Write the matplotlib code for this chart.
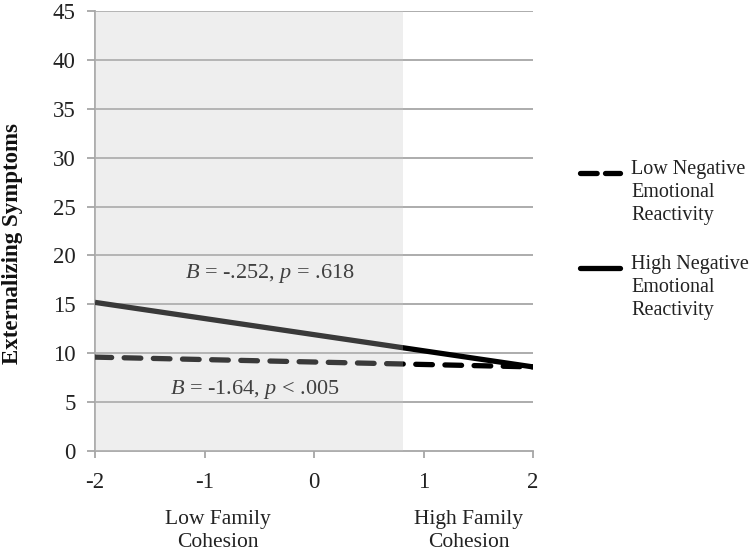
import matplotlib
matplotlib.use("Agg")
import matplotlib.pyplot as plt
from matplotlib.lines import Line2D
import matplotlib.transforms as mtransforms

plt.rcParams['font.family'] = ['Liberation Serif', 'DejaVu Serif']
plt.rcParams['lines.scale_dashes'] = False
plt.rcParams['mathtext.fontset'] = 'custom'
plt.rcParams['mathtext.it'] = 'Liberation Serif:italic'
plt.rcParams['mathtext.rm'] = 'Liberation Serif'

# Data
x_vals = [-2, 2]
low_ner = [9.6, 8.6]
high_ner = [15.2, 8.6]
series_labels = ["Low Negative\nEmotional\nReactivity", "High Negative\nEmotional\nReactivity"]
region_end = 0.81
annot_high = "$\\it{B}$ = -.252, $\\it{p}$ = .618"
annot_low = "$\\it{B}$ = -1.64, $\\it{p}$ < .005"
group_labels = ["Low Family\nCohesion", "High Family\nCohesion"]
group_pos = [-0.88, 1.41]
xticks = [-2, -1, 0, 1, 2]
yticks = list(range(0, 46, 5))

fig = plt.figure(figsize=(7.5, 5.55), dpi=100)
ax = fig.add_axes([95/750, 1-451/555, (533-95)/750, (451-11)/555])

grid_c = '#a6a6a6'
for y in yticks[1:]:
    ax.axhline(y, color=grid_c, lw=1.3, zorder=1)

ax.plot(x_vals, high_ner, color='black', lw=3.8, solid_capstyle='butt', zorder=3)
ax.plot(x_vals, low_ner, color='black', lw=3.8, dashes=(12, 9),
        dash_capstyle='round', zorder=3)

ax.axvspan(-2, region_end, color=(0.78, 0.78, 0.78), alpha=0.29, lw=0, zorder=4)

ax.text(-0.40, 18.2, annot_high, ha='center', va='center', fontsize=16, color='#404040', zorder=5)
ax.text(-0.54, 6.3, annot_low, ha='center', va='center', fontsize=16, color='#404040', zorder=5)

ax.set_xlim(-2, 2)
ax.set_ylim(0, 45)
ax.set_xticks(xticks)
ax.set_xticklabels([str(t) for t in xticks])
ax.set_yticks(yticks)
for s in ['top', 'right']:
    ax.spines[s].set_visible(False)
for s in ['left', 'bottom']:
    ax.spines[s].set_color(grid_c)
    ax.spines[s].set_linewidth(1.3)
ax.tick_params(axis='both', colors=grid_c, labelcolor='#222222', labelsize=16.5, width=1.3)
ax.tick_params(axis='x', length=5, pad=10)
ax.tick_params(axis='y', length=6, pad=8)

fig.text(13/750, 1-244/555, "Externalizing Symptoms", rotation=90, ha='center', va='center',
         fontsize=16.5, fontweight='bold', color='#111111')

trans = mtransforms.blended_transform_factory(ax.transData, ax.transAxes)
for pos, lab in zip(group_pos, group_labels):
    ax.text(pos, -80/440, lab, transform=trans, ha='center', va='center',
            fontsize=15.5, color='#222222', linespacing=1.25)

# Legend
leg_y = [173/555, 268/555]
styles = [dict(dashes=(12, 6), dash_capstyle='round'), dict(solid_capstyle='round')]
for ly, lab, st in zip(leg_y, series_labels, styles):
    fig.add_artist(Line2D([580/750, 620/750], [1-ly, 1-ly], transform=fig.transFigure,
                          color='black', lw=3.8, **st))
    fig.text(631/750, 1-ly + 13/555, lab, ha='left', va='top', fontsize=14.5,
             color='#222222', linespacing=1.3)

fig.savefig("out.png", dpi=100)
